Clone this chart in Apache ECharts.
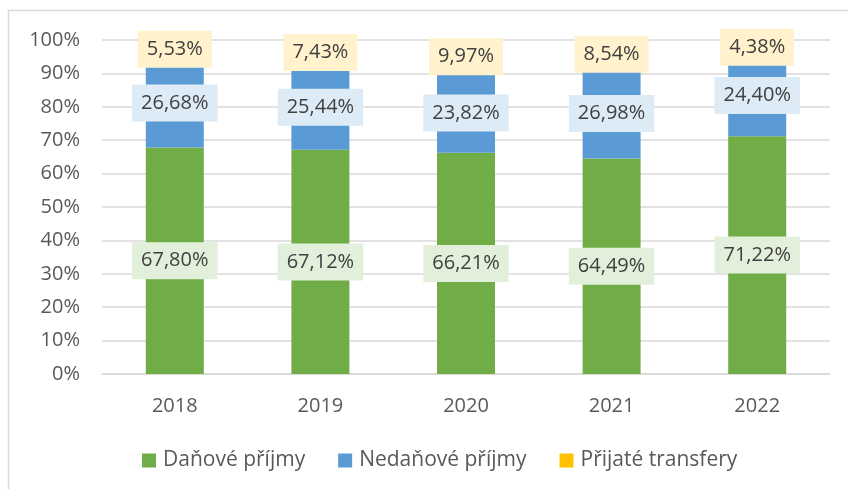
<!DOCTYPE html>
<html>
<head>
<meta charset="utf-8">
<script src="https://cdn.jsdelivr.net/npm/echarts@6/dist/echarts.min.js"></script>
<style>
  html, body { margin: 0; padding: 0; background: #fff; }
  #chart { width: 848px; height: 489px; }
</style>
</head>
<body>
<div id="chart"></div>
<script>
const years = ["2018", "2019", "2020", "2021", "2022"];
const danove = [67.80, 67.12, 66.21, 64.49, 71.22];
const nedanove = [26.68, 25.44, 23.82, 26.98, 24.40];
const transfery = [5.53, 7.43, 9.97, 8.54, 4.38];
const yTicks = [0, 10, 20, 30, 40, 50, 60, 70, 80, 90, 100];

let chart = echarts.init(document.getElementById("chart"));

function fmt(p) {
  return p.value.toFixed(2).replace(".", ",") + "%";
}

function makeSeries(name, data, color, bg) {
  return {
    name: name,
    type: "bar",
    stack: "total",
    barWidth: 58,
    data: data,
    itemStyle: { color: color },
    label: {
      show: true,
      position: "inside",
      formatter: fmt,
      color: "#404040",
      fontSize: 20,
      fontFamily: "Open Sans",
      backgroundColor: bg,
      padding: [9, 9, 8, 9]
    }
  };
}

const option = {
  animation: false,
  textStyle: { fontFamily: "Open Sans" },
  graphic: [
    {
      type: "rect",
      shape: { x: 8.5, y: 10.5, width: 860, height: 500 },
      style: { fill: "none", stroke: "#d9d9d9", lineWidth: 1.5 }
    }
  ],
  grid: { left: 102, right: 18, top: 40, bottom: 115 },
  legend: {
    top: 445,
    left: 137,
    itemWidth: 14,
    itemHeight: 14,
    itemGap: 33,
    icon: "rect",
    textStyle: { color: "#595959", fontSize: 21, fontFamily: "Open Sans", padding: [0, 0, 0, 2] },
    data: ["Daňové příjmy", "Nedaňové příjmy", "Přijaté transfery"]
  },
  xAxis: {
    type: "category",
    data: years,
    axisLine: { lineStyle: { color: "#d9d9d9", width: 1.5 } },
    axisTick: { show: false },
    axisLabel: { color: "#595959", fontSize: 20, margin: 22 }
  },
  yAxis: {
    type: "value",
    min: yTicks[0],
    max: yTicks[yTicks.length - 1],
    interval: 10,
    axisLine: { show: false },
    axisTick: { show: false },
    splitLine: { lineStyle: { color: "#d9d9d9", width: 1.5 } },
    axisLabel: { color: "#595959", fontSize: 20, margin: 22, formatter: "{value}%" }
  },
  series: [
    makeSeries("Daňové příjmy", danove, "#70ad47", "#e2efda"),
    makeSeries("Nedaňové příjmy", nedanove, "#5b9bd5", "#ddebf7"),
    makeSeries("Přijaté transfery", transfery, "#ffc000", "#fff2cc")
  ]
};

chart.setOption(option);

window.addEventListener("resize", function() {
  chart.resize();
});
</script>
</body>
</html>
